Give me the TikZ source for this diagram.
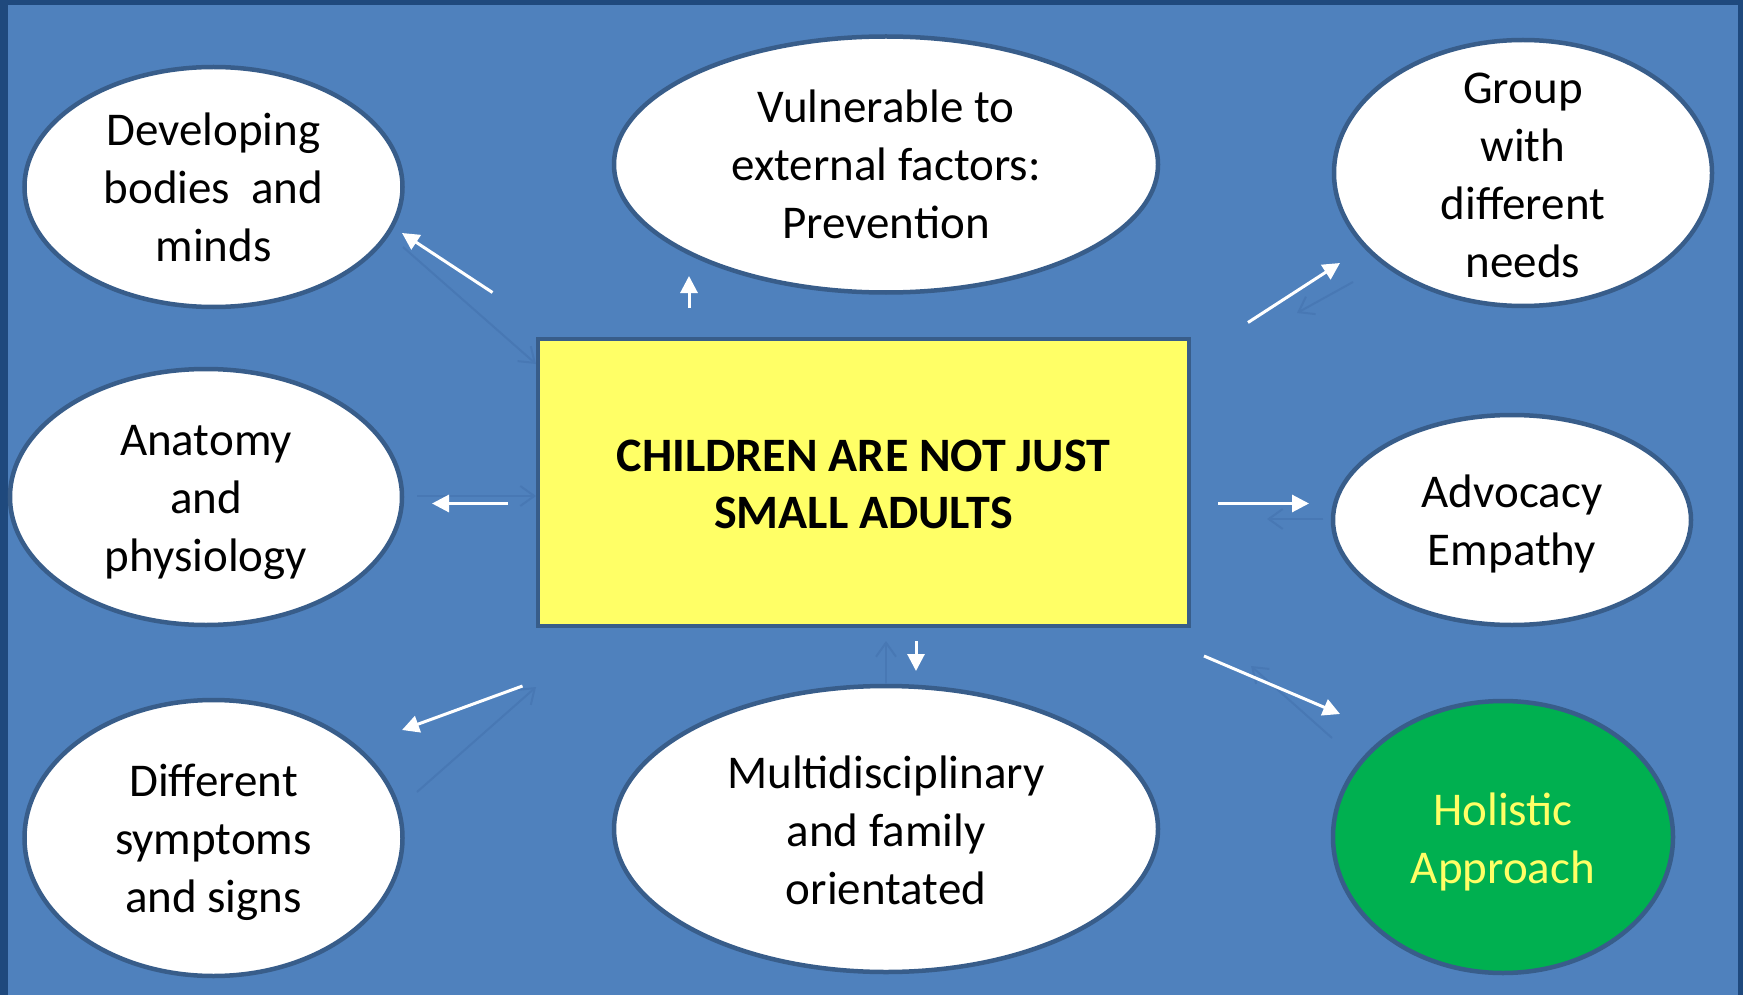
\documentclass[tikz,border=0pt]{standalone}
\usepackage{fontspec}
\setmainfont{Carlito}
\usetikzlibrary{shapes.geometric,arrows.meta}
\definecolor{frame}{RGB}{31,73,125}
\definecolor{bg}{RGB}{79,129,189}
\definecolor{edge}{RGB}{56,93,138}
\definecolor{faint}{RGB}{72,120,180}
\definecolor{boxyellow}{RGB}{255,255,102}
\definecolor{holgreen}{RGB}{0,176,80}
\definecolor{holtext}{RGB}{255,255,102}
\tikzset{
  bubble/.style={ellipse, draw=edge, line width=4.5pt, fill=white, inner sep=0pt},
  btext/.style={inner sep=0pt, align=center, font=\fontsize{47}{58}\selectfont},
  arr/.style={draw=white, line width=3pt, -{Triangle[length=17pt,width=17pt]}},
  ghost/.style={draw=faint, line width=2pt, -{Straight Barb[length=14pt,width=20pt]}}
}
\begin{document}
\begin{tikzpicture}[x=1pt,y=-1pt]
\useasboundingbox (0,0) rectangle (1743,995);
\fill[frame] (0,0) rectangle (1743,995);
\fill[bg] (8,5) rectangle (1738,995);

% central box
\node[draw=edge, line width=4.5pt, fill=boxyellow, minimum width=651pt, minimum height=287pt] (c) at (863.5,482.5) {};
\node[inner sep=0pt, align=center, font=\bfseries\fontsize{48}{57}\selectfont] (ct) at ([yshift=-2pt]c.center)
  {CHILDREN ARE NOT JUST\\SMALL ADULTS};

% ellipses
\node[bubble, minimum width=378pt, minimum height=240pt] (dev) at (213.5,187) {};
\node[btext] (devt) at (dev.center) {Developing\\bodies\ \ and\\minds};
\node[bubble, minimum width=544pt, minimum height=256pt] (vul) at (886,164.5) {};
\node[btext] (vult) at (vul.center) {Vulnerable to\\external factors:\\Prevention};
\node[bubble, minimum width=378pt, minimum height=266pt] (grp) at (1523,173) {};
\node[btext] (grpt) at ([yshift=-2pt]grp.center) {Group\\with\\different\\needs};
\node[bubble, minimum width=392pt, minimum height=256pt] (ana) at (206,497) {};
\node[btext] (anat) at ([yshift=-5pt]ana.center) {Anatomy\\and\\physiology};
\node[bubble, minimum width=358pt, minimum height=210pt] (adv) at (1512,520) {};
\node[btext] (advt) at ([yshift=-4pt]adv.center) {Advocacy\\Empathy};
\node[bubble, minimum width=378pt, minimum height=276pt] (sym) at (213.5,838) {};
\node[btext] (symt) at ([yshift=-4pt]sym.center) {Different\\symptoms\\and signs};
\node[bubble, minimum width=544pt, minimum height=286pt] (mul) at (886,829) {};
\node[btext] (mult) at ([yshift=-1pt]mul.center) {Multidisciplinary\\and family\\orientated};
\node[bubble, fill=holgreen, minimum width=340pt, minimum height=272pt] (hol) at (1503,837) {};
\node[btext, text=holtext] (holt) at ([yshift=-4.5pt]hol.center) {Holistic\\Approach};

% arrow end points
\coordinate (a1s) at (492.5,292.5); \coordinate (a1e) at (402,233);
\coordinate (a2s) at (689,308);     \coordinate (a2e) at (689,276);
\coordinate (a3s) at (1248,322.5);  \coordinate (a3e) at (1340,263);
\coordinate (a4s) at (508,503.5);   \coordinate (a4e) at (432,503.5);
\coordinate (a5s) at (1218,503.5);  \coordinate (a5e) at (1309,503.5);
\coordinate (a6s) at (522.5,686);   \coordinate (a6e) at (402,730);
\coordinate (a7s) at (916,641);     \coordinate (a7e) at (916,671);
\coordinate (a8s) at (1204,656);    \coordinate (a8e) at (1340,714);

% faint arrow end points
\coordinate (f1s) at (403,247);  \coordinate (f1e) at (536,364);
\coordinate (f2s) at (1353,282); \coordinate (f2e) at (1297,313);
\coordinate (f3s) at (417,496);  \coordinate (f3e) at (536,496);
\coordinate (f4s) at (1323,519); \coordinate (f4e) at (1267,519);
\coordinate (f5s) at (417,792);  \coordinate (f5e) at (536,687);
\coordinate (f6s) at (1332,738); \coordinate (f6e) at (1251,666);
\coordinate (f7s) at (886,684);  \coordinate (f7e) at (886,641);

\foreach \i in {1,...,7} \draw[ghost] (f\i s) -- (f\i e);
\foreach \i in {1,...,8} \draw[arr] (a\i s) -- (a\i e);
\end{tikzpicture}
\end{document}
